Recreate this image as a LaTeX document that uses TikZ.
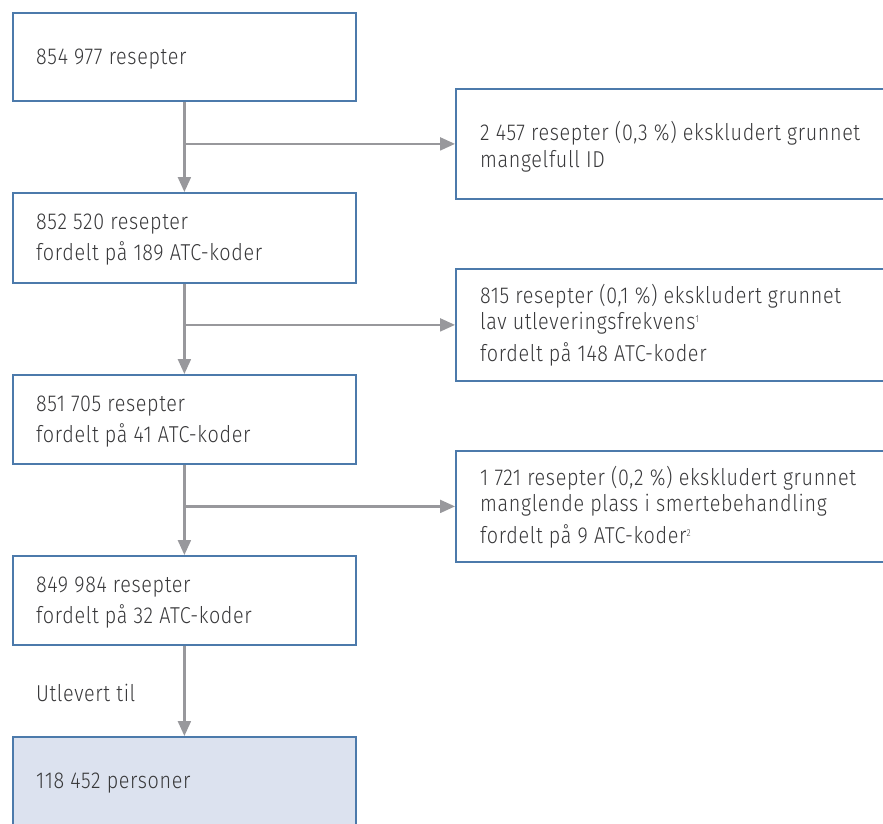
\documentclass[tikz,border=0pt]{standalone}
\usepackage{fontspec}
\IfFontExistsTF{Fira Sans Book}
  {\setmainfont{Fira Sans Book}[FakeStretch=0.86, LetterSpace=2.8]}
  {\IfFontExistsTF{Fira Sans Light}
    {\setmainfont{Fira Sans Light}[FakeStretch=0.86, LetterSpace=2.8]}
    {\setmainfont{Fira Sans}[FakeStretch=0.86, LetterSpace=2.8]}}
\usetikzlibrary{arrows.meta}
\definecolor{boxblue}{HTML}{4C7AAB}
\definecolor{arrowgray}{HTML}{98989C}
\definecolor{txtgray}{HTML}{38383A}
\definecolor{finalfill}{HTML}{DCE2EF}
\newcommand{\supnum}[1]{\raisebox{7pt}{\fontsize{10}{10}\selectfont #1}}
\begin{document}
\begin{tikzpicture}[x=1pt,y=-1pt,
  box/.style={draw=boxblue, line width=1.8pt, anchor=north west, inner sep=0pt, minimum width=343pt},
  rbox/.style={draw=boxblue, line width=1.8pt, anchor=north west, inner sep=0pt, minimum width=450pt},
  txt/.style={anchor=base west, inner sep=0pt, text=txtgray, font=\fontsize{23}{26}\selectfont},
  arr/.style={draw=arrowgray, line width=2.2pt, -{Triangle[length=15pt,width=13pt]}}]
\useasboundingbox (0,0) rectangle (883,823);
% main column
\node[box, minimum height=88pt] (b1) at (12,12) {};
\node[box, minimum height=90pt] (b2) at (12,192) {};
\node[box, minimum height=89pt] (b3) at (12,374) {};
\node[box, minimum height=89pt] (b4) at (12,555) {};
\node[box, minimum height=130pt, fill=finalfill] (b5) at (12,736) {};
% exclusion boxes
\node[rbox, minimum height=110pt] (r1) at (455,88) {};
\node[rbox, minimum height=112pt] (r2) at (455,268) {};
\node[rbox, minimum height=111pt] (r3) at (455,450) {};
% texts
\node[txt] (t1) at (36,64) {854 977 resepter};
\node[txt] (t2a) at (36,229) {852 520 resepter};
\node[txt] (t2b) at (36,260) {fordelt på 189 ATC-koder};
\node[txt] (t3a) at (36,411) {851 705 resepter};
\node[txt] (t3b) at (36,442) {fordelt på 41 ATC-koder};
\node[txt] (t4a) at (36,592) {849 984 resepter};
\node[txt] (t4b) at (36,623) {fordelt på 32 ATC-koder};
\node[txt] (tu) at (36,701) {Utlevert til};
\node[txt] (t5) at (36,788) {118 452 personer};
\node[txt] (r1a) at (480,140) {2 457 resepter (0,3 \%) ekskludert grunnet};
\node[txt] (r1b) at (480,167) {mangelfull ID};
\node[txt] (r2a) at (480,303) {815 resepter (0,1 \%) ekskludert grunnet};
\node[txt] (r2b) at (480,329) {lav utleveringsfrekvens\supnum{1}};
\node[txt] (r2c) at (480,361) {fordelt på 148 ATC-koder};
\node[txt] (r3a) at (480,485) {1 721 resepter (0,2 \%) ekskludert grunnet};
\node[txt] (r3b) at (480,511) {manglende plass i smertebehandling};
\node[txt] (r3c) at (480,543) {fordelt på 9 ATC-koder\supnum{2}};
% connectors
\coordinate (j1) at (b1.south |- r1.west);
\coordinate (j2) at (b2.south |- r2.west);
\coordinate (j3) at (b3.south |- r3.west);
\draw[arr] (b1.south) -- (b2.north);
\draw[arr] (j1) -- (r1.west);
\draw[arr] (b2.south) -- (b3.north);
\draw[arr] (j2) -- (r2.west);
\draw[arr] (b3.south) -- (b4.north);
\draw[arr] (j3) -- (r3.west);
\draw[arr] (b4.south) -- (b5.north);
\end{tikzpicture}
\end{document}
